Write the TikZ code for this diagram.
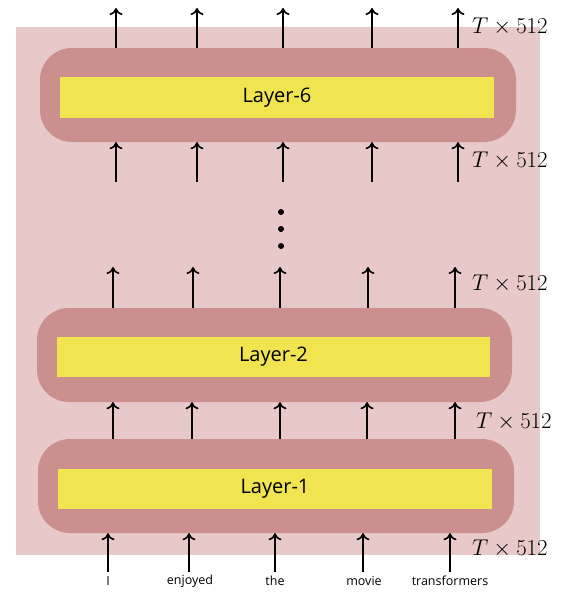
\documentclass[tikz,border=0pt]{standalone}
\usepackage[no-math]{fontspec}
\newfontfamily\labelfont{Open Sans}
\usetikzlibrary{arrows.meta}
\definecolor{bgpink}{RGB}{232,201,201}
\definecolor{outerpink}{RGB}{203,143,141}
\definecolor{layeryellow}{RGB}{240,228,80}
\newcommand{\dimtext}{\scalebox{1.1}{$T\times512$}}
\tikzset{
  outerbox/.style={fill=outerpink, draw=none, rounded corners=32pt, inner sep=0pt},
  innerbox/.style={fill=layeryellow, draw=none, inner sep=0pt, font=\labelfont\fontsize{20}{24}\selectfont, text=black},
  arr/.style={line width=1.6pt, -{To[length=7pt,width=13pt]}},
  word/.style={font=\labelfont\fontsize{12.5}{15}\selectfont, inner sep=0pt},
  dimlabel/.style={anchor=west, inner sep=0pt, font=\fontsize{21}{25}\selectfont},
  dot/.style={circle, fill=black, inner sep=0pt, minimum size=6pt}
}
\begin{document}
\begin{tikzpicture}[x=1pt,y=-1pt]
\useasboundingbox (0,0) rectangle (576,595);
\fill[bgpink] (16,27) rectangle (540,555);

% Layer 6
\node[outerbox, minimum width=476pt, minimum height=94pt] (l6o) at (278,95) {};
\node[innerbox, minimum width=434pt, minimum height=41pt] (l6) at (277,97.5) {Layer-6};
% Layer 2
\node[outerbox, minimum width=475pt, minimum height=94pt] (l2o) at (274.5,355) {};
\node[innerbox, minimum width=433pt, minimum height=40pt] (l2) at (273.5,357) {Layer-2};
% Layer 1
\node[outerbox, minimum width=476pt, minimum height=94pt] (l1o) at (276,486) {};
\node[innerbox, minimum width=434pt, minimum height=40pt] (l1) at (275,489) {Layer-1};

% top outputs
\foreach \i/\x in {1/116,2/197,3/283,4/372,5/458}{
  \coordinate (top\i) at (\x,8);
  \draw[arr] (l6o.north -| top\i) -- (top\i);
}
% inputs to layer 6
\foreach \i/\x in {1/116,2/197,3/283,4/372,5/458}{
  \coordinate (in6\i) at (\x,182);
  \draw[arr] (in6\i) -- (l6o.south -| in6\i);
}
% outputs of layer 2
\foreach \i/\x in {1/113,2/193,3/280,4/368,5/455}{
  \coordinate (out2\i) at (\x,267);
  \draw[arr] (l2o.north -| out2\i) -- (out2\i);
}
% layer 1 to layer 2
\foreach \i/\x in {1/113,2/192,3/280,4/367,5/455}{
  \coordinate (c\i) at (\x,0);
  \draw[arr] (l1o.north -| c\i) -- (l2o.south -| c\i);
}

% words
\node[word] (w1) at (108,581) {I};
\node[word] (w2) at (190,581) {enjoyed};
\node[word] (w3) at (275,581) {the};
\node[word] (w4) at (364,581) {movie};
\node[word] (w5) at (450,581) {transformers};
\foreach \i/\x in {1/108,2/189,3/275,4/363,5/450}{
  \coordinate (b\i) at (\x,572);
  \draw[arr] (b\i) -- (l1o.south -| b\i);
}

% dots
\node[dot] (d1) at (281,212) {};
\node[dot] (d2) at (281,229) {};
\node[dot] (d3) at (281,246) {};

% dimension labels
\node[dimlabel] (t1) at (472,27) {\dimtext};
\node[dimlabel] (t2) at (472,161) {\dimtext};
\node[dimlabel] (t3) at (472,284) {\dimtext};
\node[dimlabel] (t4) at (476,422) {\dimtext};
\node[dimlabel] (t5) at (472,549) {\dimtext};
\end{tikzpicture}
\end{document}
